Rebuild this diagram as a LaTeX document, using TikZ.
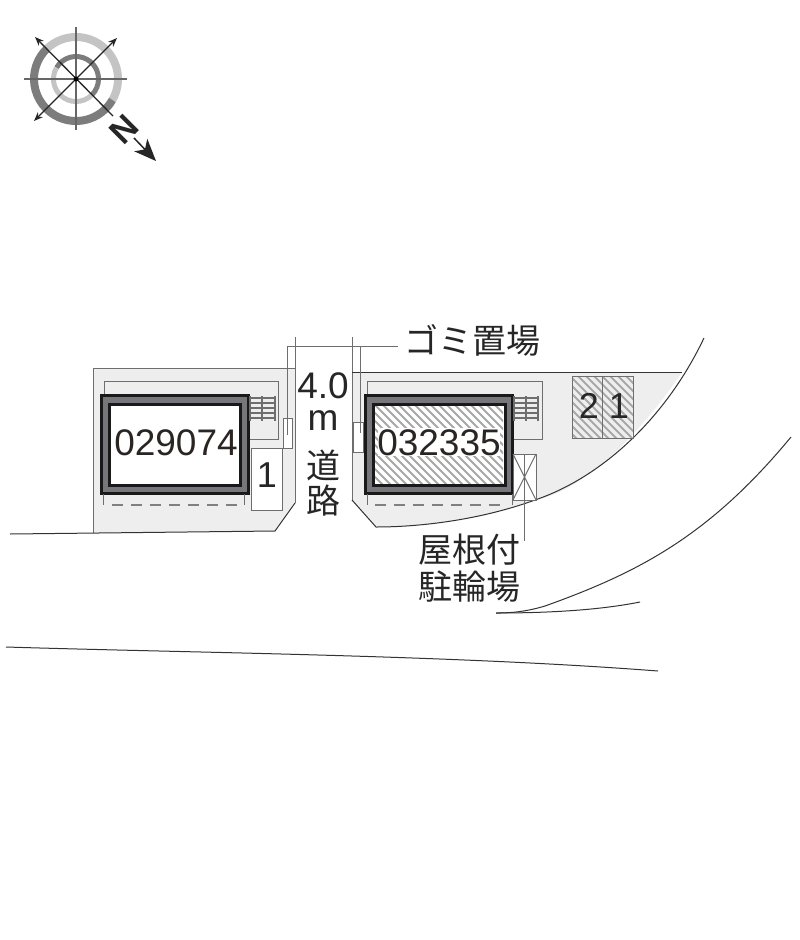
\documentclass[tikz,border=0pt]{standalone}
\usepackage{fontspec}
\setmainfont{Liberation Sans}
\newfontfamily\jp{Noto Sans CJK JP}
\usetikzlibrary{arrows.meta}
\definecolor{lotgray}{HTML}{EEEEEE}
\definecolor{linegray}{HTML}{6E6E6E}
\definecolor{wallgray}{HTML}{77777B}
\definecolor{ringdark}{HTML}{7C7C7C}
\definecolor{ringlight}{HTML}{C4C4C4}
\definecolor{hatchgray}{HTML}{A8A8A8}
\definecolor{inkc}{HTML}{2A2422}
\tikzset{
  x=1pt,y=-1pt,
  thin line/.style={draw=linegray,line width=1pt},
  road/.style={draw=black!80,line width=1pt},
  wall/.style={draw=black!90,line width=3pt,fill=wallgray},
  room/.style={draw=black!90,line width=3pt,fill=white},
  hatchline/.style={draw=hatchgray,line width=2pt},
  stairline/.style={draw=linegray,line width=1.6pt},
  dashline/.style={draw=gray,line width=1.6pt,dash pattern=on 11pt off 8pt},
  digits/.style={font=\fontsize{37}{37}\selectfont,text=inkc,inner sep=0pt},
  bigdigit/.style={font=\fontsize{36}{36}\selectfont,text=black!85,inner sep=0pt},
  jplabel/.style={font=\jp\fontsize{34}{34}\selectfont,text=black!85,inner sep=0pt},
  ringd/.style={draw=ringdark,line cap=butt},
  ringl/.style={draw=ringlight,line cap=butt},
  compass/.style={draw=black!75,line width=1.2pt},
  compassa/.style={draw=black!85,line width=1.3pt,{Stealth[length=9pt,width=7pt]}-{Stealth[length=9pt,width=7pt]}},
}
\begin{document}
\begin{tikzpicture}
\useasboundingbox[fill=white] (0,0) rectangle (800,940);

% --- compass
\coordinate (cc) at (76,79);
\draw[ringl,line width=8pt] ({76+42*cos(135)},{79-42*sin(135)}) arc[start angle=135,end angle=-30,radius=42pt];
\draw[ringd,line width=8pt] ({76+42*cos(-30)},{79-42*sin(-30)}) arc[start angle=-30,end angle=-225,radius=42pt];
\draw[ringd,line width=5pt] ({76+22.5*cos(150)},{79-22.5*sin(150)}) arc[start angle=150,end angle=-45,radius=22.5pt];
\draw[ringl,line width=5pt] ({76+22.5*cos(-45)},{79-22.5*sin(-45)}) arc[start angle=-45,end angle=-210,radius=22.5pt];
\coordinate (na) at (76,27); \coordinate (nb) at (76,130);
\coordinate (ea) at (24,79); \coordinate (eb) at (127,79);
\draw[compass,draw=black!60] (na) -- (nb);
\draw[compass,draw=black!60] (ea) -- (eb);
\coordinate (da) at (34,121); \coordinate (db) at (117,38);
\draw[compassa] (da) -- (db);
\coordinate (dc) at (35,37); \coordinate (dd) at (113,116);
\draw[compass,line width=1.3pt,draw=black!85,-{Stealth[length=9pt,width=7pt]}] (dd) -- (dc);
\fill[black] (cc) circle (2.5);
\node[rotate=-135,font=\bfseries\fontsize{34}{34}\selectfont,inner sep=0pt,text=black!85] (north) at (124,129) {N};
\coordinate (arra) at (134,138); \coordinate (arrb) at (156,161);
\draw[black!85,line width=1.5pt,-{Stealth[length=22pt,width=18pt,inset=6pt]}] (arra) -- (arrb);

% --- left lot
\fill[lotgray] (93,368) -- (295,368) -- (295,503) -- (275,531) -- (93,533) -- cycle;
\draw[thin line] (93,533) -- (93,368) -- (295,368);
\draw[thin line] (295,337) -- (295,503);
\draw[road] (295,503) -- (275,531) -- (10,534);
\fill[white] (251,448) rectangle (282,510);
\draw[thin line] (104,394) -- (104,381) -- (278,381) -- (278,439) -- (248,439);
\draw[wall] (101,395) rectangle (248,493);
\draw[room] (109,404) rectangle (240,485);
\foreach \yy in {398,403,408,413,418} \draw[stairline] (250,\yy) -- (275,\yy);
\foreach \xx in {250,262,275} \draw[stairline] (\xx,396) -- (\xx,421);
\draw[thin line] (251,448) rectangle (282,510);
\draw[thin line,fill=white] (283,418) rectangle (292,448);
\draw[dashline] (112,505) -- (242,505);
\draw[thin line] (103,494) -- (103,505);
\draw[thin line] (244,494) -- (244,505);
\node[digits] (bldA) at (176,443) {029074};
\node[bigdigit] (parkA) at (267,475) {1};

% --- right lot
\fill[lotgray] (352,372) -- (682,372) .. controls (650,420) and (590,490) .. (535,500) .. controls (480,520) and (420,527) .. (376,527) -- (352,500) -- cycle;
\draw[thin line] (352,337) -- (352,500);
\draw[road] (352,372) -- (682,372);
\draw[road] (352,500) -- (376,527) .. controls (420,527) and (480,520) .. (535,500) .. controls (600,478) and (665,420) .. (704,338);
\draw[thin line] (367,394) -- (367,381) -- (542,381) -- (542,439) -- (512,439);
\draw[wall] (365,395) rectangle (512,493);
\draw[room] (373,404) rectangle (505,485);
\begin{scope}
\clip (375,406) rectangle (503,483);
\foreach \xx in {250,258,...,520} \draw[hatchline] (\xx,400) -- ++(90,90);
\end{scope}
\fill[white] (378,428) rectangle (500,456);
\foreach \yy in {398,403,408,413,418} \draw[stairline] (514,\yy) -- (538,\yy);
\foreach \xx in {514,526,538} \draw[stairline] (\xx,396) -- (\xx,421);
\draw[thin line,fill=white] (353,422) rectangle (363,452);
\draw[dashline] (375,505) -- (505,505);
\draw[thin line] (367,494) -- (367,505);
\draw[thin line] (512,494) -- (512,505);
\draw[thin line,fill=white] (513,454) rectangle (536,500);
\draw[thin line] (513,454) -- (536,500);
\draw[thin line] (536,454) -- (513,500);
\begin{scope}
\clip (572,376) rectangle (633,438);
\foreach \xx in {500,508,...,640} \draw[hatchline] (\xx,370) -- ++(75,75);
\end{scope}
\draw[thin line] (572,376) rectangle (633,438);
\draw[thin line] (602,376) -- (602,438);
\node[digits] (bldB) at (439,443) {032335};
\node[bigdigit] (parkB) at (589,406) {2};
\node[bigdigit] (parkC) at (619,406) {1};

% --- leader lines
\coordinate (gomiL) at (287,435);
\coordinate (gomiR) at (360,433);
\coordinate (gomiT) at (287,346);
\coordinate (gomiU) at (360,346);
\node[jplabel,anchor=west] (gomi) at (404,340) {ゴミ置場};
\draw[thin line] (gomiL) -- (gomiT) -- (398,346);
\draw[thin line] (gomiU) -- (gomiR);
\coordinate (bike) at (524,454);
\coordinate (bikeE) at (524,541);
\draw[thin line] (bike) -- (bikeE);

% --- road labels
\node[font=\fontsize{37}{37}\selectfont,text=black!85,inner sep=0pt] (w1) at (323,386) {4.0};
\node[font=\fontsize{37}{37}\selectfont,text=black!85,inner sep=0pt] (w2) at (323,421) {m};
\node[jplabel] (w3) at (323,465) {道};
\node[jplabel] (w4) at (323,501) {路};
\node[jplabel] (bk1) at (469,550) {屋根付};
\node[jplabel] (bk2) at (469,587) {駐輪場};

% --- roads
\draw[road] (496,613) .. controls (510,613) and (525,612) .. (545,606) .. controls (640,572) and (710,535) .. (791,437);
\draw[road] (496,613) .. controls (550,613) and (600,610) .. (640,602);
\draw[road] (6,647) .. controls (200,653) and (450,655) .. (658,671);
\end{tikzpicture}
\end{document}
